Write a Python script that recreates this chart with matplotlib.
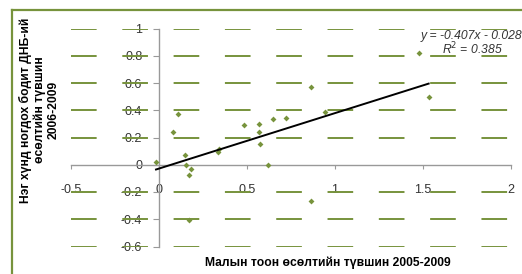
import matplotlib
matplotlib.use("Agg")
import matplotlib.pyplot as plt
from matplotlib.lines import Line2D
import numpy as np

plt.rcParams['font.family'] = ['Liberation Sans', 'DejaVu Sans']
plt.rcParams['lines.scale_dashes'] = False

# Data
x_vals = [-0.017, 0.081, 0.108, 0.146, 0.153, 0.182, 0.172, 0.172, 0.333, 0.342,
          0.483, 0.566, 0.566, 0.574, 0.622, 0.650, 0.724, 0.866, 0.864, 0.945,
          1.475, 1.532]
y_vals = [0.017, 0.240, 0.370, 0.071, 0.000, -0.029, -0.076, -0.403, 0.095, 0.115,
          0.295, 0.300, 0.240, 0.152, -0.002, 0.337, 0.342, 0.574, -0.266, 0.388,
          0.823, 0.498]
trend_slope = 0.407
trend_intercept = -0.028
eq_text = "y = -0.407x - 0.028"
r2_text = "R$^2$ = 0.385"
x_ticks = [-0.5, 0, 0.5, 1, 1.5, 2]
x_tick_labels = ["-0.5", "0", "0.5", "1", "1.5", "2"]
y_ticks = [-0.6, -0.4, -0.2, 0, 0.2, 0.4, 0.6, 0.8, 1]
y_tick_labels = ["-0.6", "-0.4", "-0.2", "0", "0.2", "0.4", "0.6", "0.8", "1"]
x_title = "Малын тоон өсөлтийн түвшин 2005-2009"
y_title = "Нэг хүнд ногдох бодит ДНБ-ий\nөсөлтийн түвшин\n2006-2009"

OLIVE = '#77933C'
W, H = 522, 274
fig = plt.figure(figsize=(W / 100, H / 100), dpi=100)
ax = fig.add_axes([71 / W, 1 - 246.5 / H, (511 - 71) / W, (246.5 - 28.5) / H])
ax.set_xlim(-0.5, 2)
ax.set_ylim(-0.6, 1)
ax.patch.set_visible(False)

# dashed horizontal gridlines
dash = 18.47
for yv in y_ticks:
    if yv == 0:
        continue
    ax.axhline(yv, color=OLIVE, lw=1.4, dashes=(dash, dash), zorder=2)

# spines crossing at 0
for s in ['top', 'right']:
    ax.spines[s].set_visible(False)
ax.spines['left'].set_position(('data', 0))
ax.spines['bottom'].set_position(('data', 0))
for s in ['left', 'bottom']:
    ax.spines[s].set_color('#999999')
    ax.spines[s].set_linewidth(1.0)

ax.set_xticks(x_ticks)
ax.set_xticklabels(x_tick_labels)
ax.set_yticks(y_ticks)
ax.set_yticklabels(y_tick_labels)
ax.tick_params(axis='y', direction='out', length=4, width=0.8, color='#999999',
               labelsize=9, labelcolor='#333333', pad=8)
ax.tick_params(axis='x', direction='out', length=3, width=0.8, color='#999999',
               labelsize=9, labelcolor='#333333', pad=11)

# scatter points
ax.plot(x_vals, y_vals, linestyle='none', marker='D', ms=3.0, color=OLIVE,
        markeredgewidth=0, zorder=3)

# trendline
xs = np.array([min(x_vals), max(x_vals)])
ax.plot(xs, trend_slope * xs + trend_intercept, color='black', lw=1.4, zorder=4)

# equation
fig.text(471 / W, 1 - 36 / H, eq_text, fontsize=8.7, style='italic',
         ha='center', va='center', color='#333333')
fig.text(472 / W, 1 - 49 / H, r2_text, fontsize=8.7, style='italic',
         ha='center', va='center', color='#333333')

# axis titles
fig.text(327.5 / W, 1 - 263 / H, x_title, fontsize=8.7, fontweight='bold',
         ha='center', va='center', color='black')
fig.text(39 / W, 1 - 110 / H, y_title, fontsize=8.7, fontweight='bold',
         ha='center', va='center', rotation=90, multialignment='center',
         linespacing=1.15, color='black')

# border
fig.add_artist(Line2D([11.5 / W, 11.5 / W], [0, 1 - 10 / H], color=OLIVE, lw=1.6,
                      transform=fig.transFigure))
fig.add_artist(Line2D([11.5 / W, 1], [1 - 10 / H, 1 - 10 / H], color=OLIVE, lw=1.6,
                      transform=fig.transFigure))

fig.savefig('out.png', dpi=100)
